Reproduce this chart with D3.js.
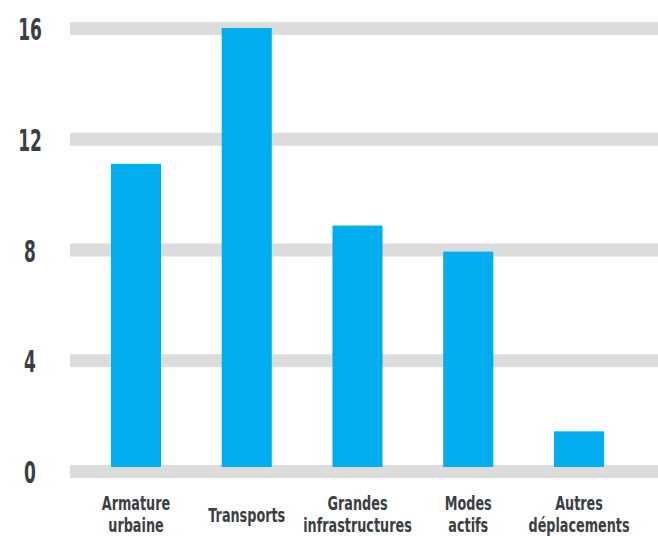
<html>
<head><meta charset="utf-8"></head>
<script src="https://d3js.org/d3.v7.min.js"></script>
<style>
body { margin: 0; background: #fff; }
.chart text { font-family: "DejaVu Sans", sans-serif; font-weight: bold; fill: #3c3e45; }
</style>
<body>
<svg width="658" height="536" class="chart"></svg>
<script>
var categories = [["Armature", "urbaine"], ["Transports"], ["Grandes", "infrastructures"], ["Modes", "actifs"], ["Autres", "déplacements"]];
var values = [11.05, 16, 8.8, 7.85, 1.3];
var ticks = [0, 4, 8, 12, 16];

var svg = d3.select(".chart");

// bars and grid bands are on slightly different vertical scales in the original
var y = d3.scaleLinear().domain([0, 16]).range([467, 28]);
var yg = d3.scaleLinear().domain([0, 16]).range([471.5, 28.5]);
var x = d3.scaleBand()
    .domain(d3.range(categories.length))
    .range([80.6, 634.4])
    .paddingInner(0.548)
    .paddingOuter(0.274);

// grey bands
svg.append("g")
  .selectAll("rect")
  .data(ticks)
  .enter()
  .append("rect")
  .attr("x", 70)
  .attr("width", 588)
  .attr("y", function(d) { return yg(d) - 6.5; })
  .attr("height", 13)
  .attr("fill", "#dcdcdc");

// y labels
svg.append("g")
  .selectAll("text")
  .data(ticks)
  .enter()
  .append("text")
  .attr("transform", function(d) { return "translate(30," + (yg(d) + 11.5) + ") scale(0.55,1)"; })
  .attr("text-anchor", "middle")
  .attr("font-size", 31)
  .text(function(d) { return d; });

// bars
svg.append("g")
  .selectAll("rect")
  .data(values)
  .enter()
  .append("rect")
  .attr("x", function(d, i) { return x(i); })
  .attr("width", x.bandwidth())
  .attr("y", function(d) { return y(d); })
  .attr("height", function(d) { return y(0) - y(d); })
  .attr("fill", "#00aeef");

// category labels, one text per line
categories.forEach(function(lines, i) {
  svg.append("g")
    .selectAll("text")
    .data(lines)
    .enter()
    .append("text")
    .attr("text-anchor", "middle")
    .attr("font-size", 20)
    .attr("transform", function(t, j) {
      var by = lines.length == 1 ? 522 : 510 + j * 22;
      return "translate(" + (x(i) + x.bandwidth() / 2) + "," + by + ") scale(0.64,1)";
    })
    .text(function(t) { return t; });
});
</script>
</body>
</html>
